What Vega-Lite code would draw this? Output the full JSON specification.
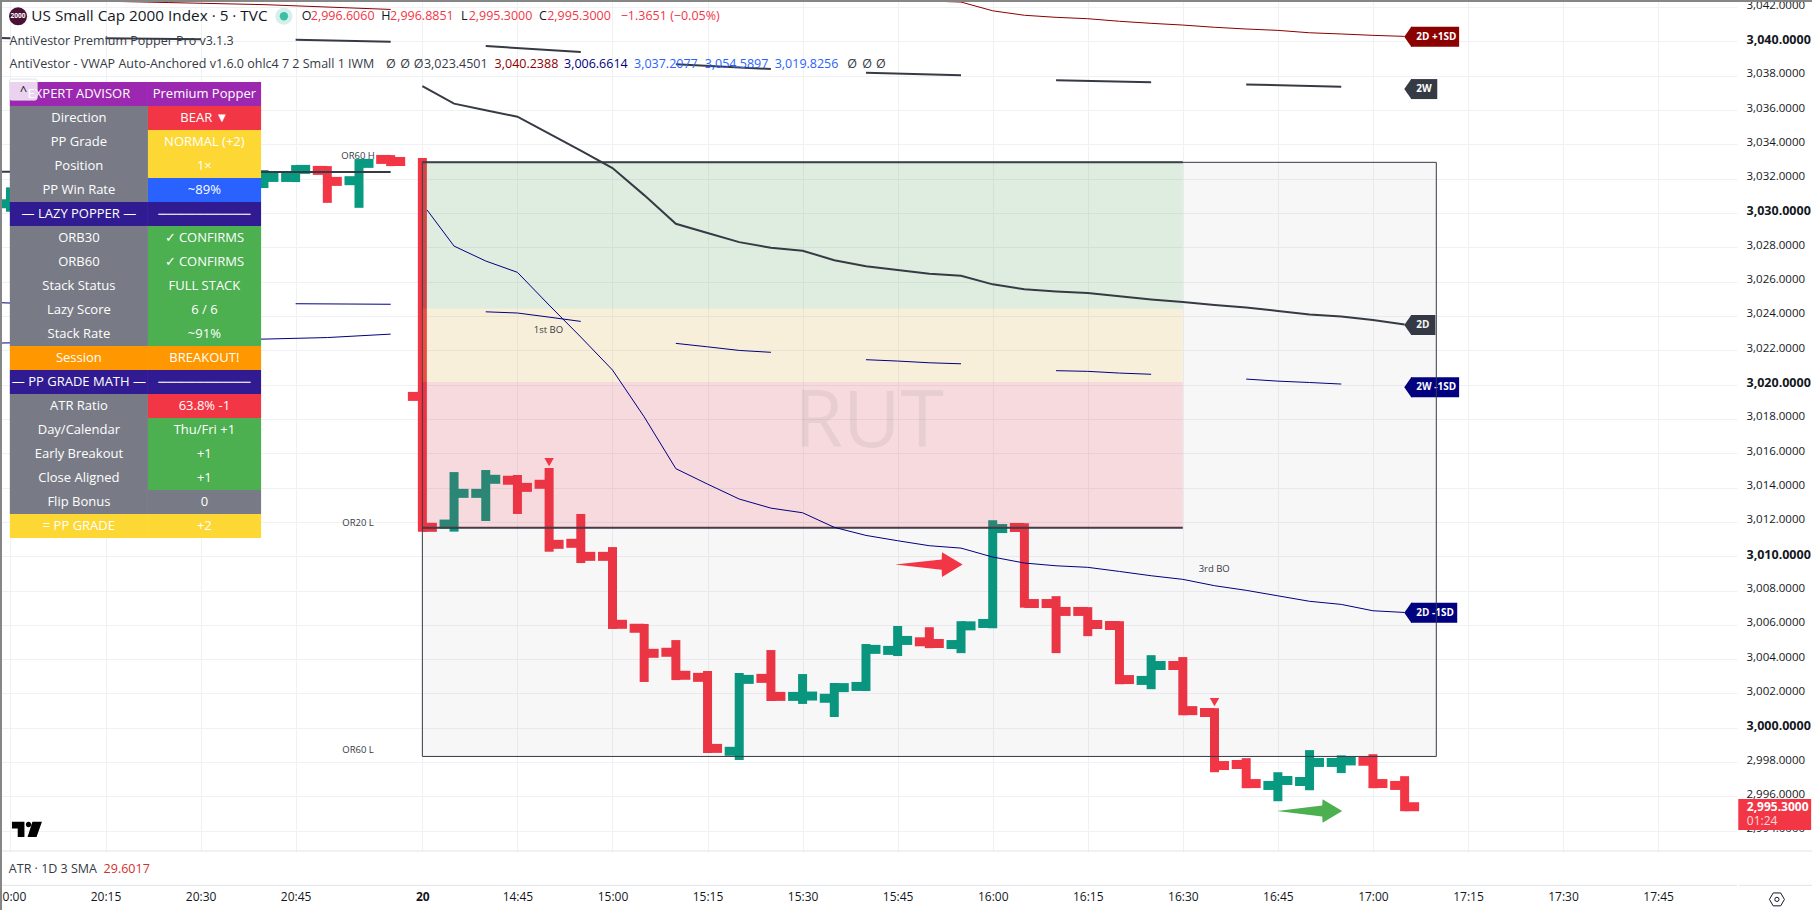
{
"$schema":"https://vega.github.io/schema/vega-lite/v6.json",
"width":1737,"height":851,"autosize":"none","padding":{"left":0,"top":0,"right":75,"bottom":59},
"background":"#ffffff",
"config":{"legend":{"disable":true},"view":{"stroke":null},"text":{"font":"Open Sans"},"axis":{"labelFont":"Open Sans"}},
"datasets":{
"bars":[
{"bar":-13,"open":3030.53,"high":3031.49,"low":3030.07,"close":3031.04,"dir":"up"},
{"bar":-5,"open":3031.92,"high":3032.5,"low":3031.45,"close":3032.07,"dir":"up"},
{"bar":-4,"open":3032.07,"high":3032.79,"low":3031.8,"close":3032.54,"dir":"up"},
{"bar":-3,"open":3032.48,"high":3032.73,"low":3030.59,"close":3031.84,"dir":"down"},
{"bar":-2,"open":3031.88,"high":3033.14,"low":3030.3,"close":3032.89,"dir":"up"},
{"bar":-1,"open":3033.12,"high":3033.37,"low":3032.73,"close":3033.0,"dir":"down"},
{"bar":0,"open":3019.31,"high":3033.2,"low":3011.43,"close":3011.68,"dir":"down"},
{"bar":1,"open":3011.87,"high":3014.9,"low":3011.43,"close":3013.66,"dir":"up"},
{"bar":2,"open":3013.66,"high":3015.02,"low":3012.05,"close":3014.48,"dir":"up"},
{"bar":3,"open":3014.42,"high":3014.73,"low":3012.46,"close":3014.01,"dir":"down"},
{"bar":4,"open":3014.19,"high":3015.14,"low":3010.26,"close":3010.69,"dir":"down"},
{"bar":5,"open":3010.75,"high":3012.46,"low":3009.6,"close":3009.99,"dir":"down"},
{"bar":6,"open":3009.99,"high":3010.53,"low":3005.76,"close":3006.03,"dir":"down"},
{"bar":7,"open":3005.8,"high":3006.05,"low":3002.67,"close":3004.34,"dir":"down"},
{"bar":8,"open":3004.4,"high":3005.11,"low":3002.78,"close":3003.06,"dir":"down"},
{"bar":9,"open":3002.94,"high":3003.31,"low":2998.53,"close":2998.8,"dir":"down"},
{"bar":10,"open":2998.63,"high":3003.19,"low":2998.12,"close":3002.82,"dir":"up"},
{"bar":11,"open":3002.88,"high":3004.53,"low":3001.56,"close":3001.83,"dir":"down"},
{"bar":12,"open":3001.83,"high":3003.13,"low":3001.39,"close":3001.85,"dir":"up"},
{"bar":13,"open":3001.72,"high":3002.61,"low":3000.63,"close":3002.34,"dir":"up"},
{"bar":14,"open":3002.41,"high":3004.88,"low":3002.14,"close":3004.57,"dir":"up"},
{"bar":15,"open":3004.51,"high":3005.93,"low":3004.18,"close":3005.09,"dir":"up"},
{"bar":16,"open":3005.01,"high":3005.86,"low":3004.64,"close":3004.91,"dir":"down"},
{"bar":17,"open":3004.85,"high":3006.21,"low":3004.35,"close":3005.94,"dir":"up"},
{"bar":18,"open":3006.08,"high":3012.1,"low":3005.8,"close":3011.61,"dir":"up"},
{"bar":19,"open":3011.67,"high":3011.92,"low":3007.0,"close":3007.24,"dir":"down"},
{"bar":20,"open":3007.24,"high":3007.67,"low":3004.35,"close":3006.78,"dir":"down"},
{"bar":21,"open":3006.78,"high":3007.03,"low":3005.34,"close":3006.02,"dir":"down"},
{"bar":22,"open":3005.96,"high":3006.21,"low":3002.54,"close":3002.81,"dir":"down"},
{"bar":23,"open":3002.76,"high":3004.23,"low":3002.25,"close":3003.63,"dir":"up"},
{"bar":24,"open":3003.63,"high":3004.12,"low":3000.73,"close":3001.0,"dir":"down"},
{"bar":25,"open":3000.89,"high":3001.14,"low":2997.41,"close":2997.8,"dir":"down"},
{"bar":26,"open":2997.86,"high":2998.23,"low":2996.48,"close":2996.75,"dir":"down"},
{"bar":27,"open":2996.64,"high":2997.41,"low":2995.72,"close":2996.93,"dir":"up"},
{"bar":28,"open":2996.87,"high":2998.7,"low":2996.36,"close":2997.98,"dir":"up"},
{"bar":29,"open":2997.98,"high":2998.39,"low":2997.36,"close":2998.07,"dir":"up"},
{"bar":30,"open":2998.05,"high":2998.46,"low":2996.48,"close":2996.75,"dir":"down"},
{"bar":31,"open":2996.64,"high":2997.18,"low":2995.14,"close":2995.4,"dir":"down"}
],
"lines":[
{"series":"2D","seg":"d0","bar":0,"price":3037.39},{"series":"2D","seg":"d0","bar":1,"price":3036.37},{"series":"2D","seg":"d0","bar":2,"price":3035.98},{"series":"2D","seg":"d0","bar":3,"price":3035.61},{"series":"2D","seg":"d0","bar":4,"price":3034.62},{"series":"2D","seg":"d0","bar":5,"price":3033.63},{"series":"2D","seg":"d0","bar":6,"price":3032.62},{"series":"2D","seg":"d0","bar":7,"price":3031.04},{"series":"2D","seg":"d0","bar":8,"price":3029.37},{"series":"2D","seg":"d0","bar":9,"price":3028.83},{"series":"2D","seg":"d0","bar":10,"price":3028.3},{"series":"2D","seg":"d0","bar":11,"price":3027.97},{"series":"2D","seg":"d0","bar":12,"price":3027.8},{"series":"2D","seg":"d0","bar":13,"price":3027.25},{"series":"2D","seg":"d0","bar":14,"price":3026.9},{"series":"2D","seg":"d0","bar":15,"price":3026.67},{"series":"2D","seg":"d0","bar":16,"price":3026.46},{"series":"2D","seg":"d0","bar":17,"price":3026.34},{"series":"2D","seg":"d0","bar":18,"price":3025.84},{"series":"2D","seg":"d0","bar":19,"price":3025.55},{"series":"2D","seg":"d0","bar":20,"price":3025.43},{"series":"2D","seg":"d0","bar":21,"price":3025.33},{"series":"2D","seg":"d0","bar":22,"price":3025.14},{"series":"2D","seg":"d0","bar":23,"price":3024.96},{"series":"2D","seg":"d0","bar":24,"price":3024.81},{"series":"2D","seg":"d0","bar":25,"price":3024.63},{"series":"2D","seg":"d0","bar":26,"price":3024.49},{"series":"2D","seg":"d0","bar":27,"price":3024.29},{"series":"2D","seg":"d0","bar":28,"price":3024.09},{"series":"2D","seg":"d0","bar":29,"price":3023.96},{"series":"2D","seg":"d0","bar":30,"price":3023.76},{"series":"2D","seg":"d0","bar":31,"price":3023.5},
{"series":"2D","seg":"dp","bar":-13.33,"price":3032.4},{"series":"2D","seg":"dp","bar":-1,"price":3032.38},
{"series":"2W","seg":"w0","bar":-13.33,"price":3040.2},{"series":"2W","seg":"w0","bar":-13,"price":3040.18},
{"series":"2W","seg":"w1","bar":-10,"price":3040.18},{"series":"2W","seg":"w1","bar":-7,"price":3040.13},
{"series":"2W","seg":"w2","bar":-4,"price":3040.1},{"series":"2W","seg":"w2","bar":-1,"price":3039.98},
{"series":"2W","seg":"w3","bar":2,"price":3039.73},{"series":"2W","seg":"w3","bar":5,"price":3039.38},
{"series":"2W","seg":"w4","bar":8,"price":3038.66},{"series":"2W","seg":"w4","bar":11,"price":3038.39},
{"series":"2W","seg":"w5","bar":14,"price":3038.17},{"series":"2W","seg":"w5","bar":17,"price":3038.02},
{"series":"2W","seg":"w6","bar":20,"price":3037.74},{"series":"2W","seg":"w6","bar":23,"price":3037.61},
{"series":"2W","seg":"w7","bar":26,"price":3037.49},{"series":"2W","seg":"w7","bar":29,"price":3037.35},
{"series":"2D +1SD","seg":"u0","bar":16,"price":3042.35},{"series":"2D +1SD","seg":"u0","bar":17,"price":3042.29},{"series":"2D +1SD","seg":"u0","bar":18,"price":3041.78},{"series":"2D +1SD","seg":"u0","bar":19,"price":3041.52},{"series":"2D +1SD","seg":"u0","bar":20,"price":3041.4},{"series":"2D +1SD","seg":"u0","bar":21,"price":3041.32},{"series":"2D +1SD","seg":"u0","bar":22,"price":3041.17},{"series":"2D +1SD","seg":"u0","bar":23,"price":3041.05},{"series":"2D +1SD","seg":"u0","bar":24,"price":3040.95},{"series":"2D +1SD","seg":"u0","bar":25,"price":3040.82},{"series":"2D +1SD","seg":"u0","bar":26,"price":3040.72},{"series":"2D +1SD","seg":"u0","bar":27,"price":3040.64},{"series":"2D +1SD","seg":"u0","bar":28,"price":3040.5},{"series":"2D +1SD","seg":"u0","bar":29,"price":3040.43},{"series":"2D +1SD","seg":"u0","bar":30,"price":3040.35},{"series":"2D +1SD","seg":"u0","bar":31,"price":3040.29},
{"series":"2D +1SD","seg":"up","bar":-11,"price":3042.38},{"series":"2D +1SD","seg":"up","bar":-8,"price":3042.26},{"series":"2D +1SD","seg":"up","bar":-5,"price":3042.14},{"series":"2D +1SD","seg":"up","bar":-1,"price":3041.86},
{"series":"2D -1SD","seg":"l0","bar":0.15,"price":3030.17},{"series":"2D -1SD","seg":"l0","bar":1,"price":3028.07},{"series":"2D -1SD","seg":"l0","bar":2,"price":3027.2},{"series":"2D -1SD","seg":"l0","bar":3,"price":3026.54},{"series":"2D -1SD","seg":"l0","bar":4,"price":3024.63},{"series":"2D -1SD","seg":"l0","bar":5,"price":3022.77},{"series":"2D -1SD","seg":"l0","bar":6,"price":3020.85},{"series":"2D -1SD","seg":"l0","bar":7,"price":3018.12},{"series":"2D -1SD","seg":"l0","bar":8,"price":3015.1},{"series":"2D -1SD","seg":"l0","bar":9,"price":3014.2},{"series":"2D -1SD","seg":"l0","bar":10,"price":3013.33},{"series":"2D -1SD","seg":"l0","bar":11,"price":3012.8},{"series":"2D -1SD","seg":"l0","bar":12,"price":3012.53},{"series":"2D -1SD","seg":"l0","bar":13,"price":3011.68},{"series":"2D -1SD","seg":"l0","bar":14,"price":3011.21},{"series":"2D -1SD","seg":"l0","bar":15,"price":3010.9},{"series":"2D -1SD","seg":"l0","bar":16,"price":3010.61},{"series":"2D -1SD","seg":"l0","bar":17,"price":3010.47},{"series":"2D -1SD","seg":"l0","bar":18,"price":3009.95},{"series":"2D -1SD","seg":"l0","bar":19,"price":3009.6},{"series":"2D -1SD","seg":"l0","bar":20,"price":3009.44},{"series":"2D -1SD","seg":"l0","bar":21,"price":3009.35},{"series":"2D -1SD","seg":"l0","bar":22,"price":3009.11},{"series":"2D -1SD","seg":"l0","bar":23,"price":3008.86},{"series":"2D -1SD","seg":"l0","bar":24,"price":3008.65},{"series":"2D -1SD","seg":"l0","bar":25,"price":3008.28},{"series":"2D -1SD","seg":"l0","bar":26,"price":3008.01},{"series":"2D -1SD","seg":"l0","bar":27,"price":3007.69},{"series":"2D -1SD","seg":"l0","bar":28,"price":3007.37},{"series":"2D -1SD","seg":"l0","bar":29,"price":3007.19},{"series":"2D -1SD","seg":"l0","bar":30,"price":3006.82},{"series":"2D -1SD","seg":"l0","bar":31,"price":3006.72},
{"series":"2D -1SD","seg":"lp","bar":-13.33,"price":3022.42},{"series":"2D -1SD","seg":"lp","bar":-5,"price":3022.65},{"series":"2D -1SD","seg":"lp","bar":-3,"price":3022.74},{"series":"2D -1SD","seg":"lp","bar":-1,"price":3022.94},
{"series":"2W -1SD","seg":"s0","bar":-13.33,"price":3024.77},{"series":"2W -1SD","seg":"s0","bar":-13,"price":3024.75},
{"series":"2W -1SD","seg":"s1","bar":-4,"price":3024.71},{"series":"2W -1SD","seg":"s1","bar":-1,"price":3024.68},
{"series":"2W -1SD","seg":"s2","bar":2,"price":3024.24},{"series":"2W -1SD","seg":"s2","bar":3,"price":3024.17},{"series":"2W -1SD","seg":"s2","bar":4,"price":3023.93},{"series":"2W -1SD","seg":"s2","bar":5,"price":3023.68},
{"series":"2W -1SD","seg":"s3","bar":8,"price":3022.4},{"series":"2W -1SD","seg":"s3","bar":9,"price":3022.2},{"series":"2W -1SD","seg":"s3","bar":10,"price":3021.99},{"series":"2W -1SD","seg":"s3","bar":11,"price":3021.88},
{"series":"2W -1SD","seg":"s4","bar":14,"price":3021.45},{"series":"2W -1SD","seg":"s4","bar":15,"price":3021.37},{"series":"2W -1SD","seg":"s4","bar":16,"price":3021.27},{"series":"2W -1SD","seg":"s4","bar":17,"price":3021.21},
{"series":"2W -1SD","seg":"s5","bar":20,"price":3020.81},{"series":"2W -1SD","seg":"s5","bar":21,"price":3020.77},{"series":"2W -1SD","seg":"s5","bar":22,"price":3020.67},{"series":"2W -1SD","seg":"s5","bar":23,"price":3020.6},
{"series":"2W -1SD","seg":"s6","bar":26,"price":3020.32},{"series":"2W -1SD","seg":"s6","bar":27,"price":3020.2},{"series":"2W -1SD","seg":"s6","bar":28,"price":3020.12},{"series":"2W -1SD","seg":"s6","bar":29,"price":3020.03}
],
"badges":[
{"label":"2D +1SD","series":"2D +1SD","bar":31.21,"barEnd":32.72,"price":3040.27},
{"label":"2W","series":"2W","bar":31.21,"barEnd":32.03,"price":3037.22},
{"label":"2D","series":"2D","bar":31.21,"barEnd":31.97,"price":3023.47},
{"label":"2W -1SD","series":"2W -1SD","bar":31.21,"barEnd":32.72,"price":3019.85},
{"label":"2D -1SD","series":"2D -1SD","bar":31.21,"barEnd":32.66,"price":3006.7}
],
"zones":[
{"zone":"green","bar":0,"barEnd":24,"top":3032.95,"bottom":3024.44},
{"zone":"amber","bar":0,"barEnd":24,"top":3024.44,"bottom":3020.15},
{"zone":"down","bar":0,"barEnd":24,"top":3020.15,"bottom":3011.66}
],
"orLevels":[{"name":"OR high","bar":0,"barEnd":24,"price":3032.95},{"name":"OR low","bar":0,"barEnd":24,"price":3011.66}],
"arrows":[
{"arrow":"a","kind":"down","bar":14.92,"price":3009.51,"price2":3009.51},{"arrow":"a","kind":"down","bar":16.39,"price":3009.81,"price2":3009.21},{"arrow":"a","kind":"down","bar":16.4,"price":3010.23,"price2":3008.79},{"arrow":"a","kind":"down","bar":17.05,"price":3009.51,"price2":3009.51},
{"arrow":"b","kind":"green","bar":26.97,"price":2995.15,"price2":2995.15},{"arrow":"b","kind":"green","bar":28.4,"price":2995.47,"price2":2994.83},{"arrow":"b","kind":"green","bar":28.41,"price":2995.84,"price2":2994.46},{"arrow":"b","kind":"green","bar":29.03,"price":2995.15,"price2":2995.15}
],
"signals":[{"bar":4,"price":3015.48},{"bar":25,"price":3001.5}],
"small":[
{"label":"OR60 H","bar":-2.03,"price":3033.32},{"label":"OR20 L","bar":-2.03,"price":3011.93},{"label":"OR60 L","bar":-2.03,"price":2998.7},{"label":"1st BO","bar":3.98,"price":3023.18},{"label":"3rd BO","bar":24.99,"price":3009.25}
],
"legendText":[
{"label":"O","bar":-3.81,"price":3041.46,"kind":"ink"},{"label":"2,996.6060","bar":-3.52,"price":3041.46,"kind":"down"},
{"label":"H","bar":-1.3,"price":3041.46,"kind":"ink"},{"label":"2,996.8851","bar":-1.02,"price":3041.46,"kind":"down"},
{"label":"L","bar":1.22,"price":3041.46,"kind":"ink"},{"label":"2,995.3000","bar":1.46,"price":3041.46,"kind":"down"},
{"label":"C","bar":3.68,"price":3041.46,"kind":"ink"},{"label":"2,995.3000","bar":3.94,"price":3041.46,"kind":"down"},
{"label":"−1.3651 (−0.05%)","bar":6.26,"price":3041.46,"kind":"down"},
{"label":"AntiVestor Premium Popper Pro v3.1.3","bar":-13.03,"price":3040.03,"kind":"2D"},
{"label":"AntiVestor - VWAP Auto-Anchored v1.6.0 ohlc4 7 2 Small 1 IWM","bar":-13.03,"price":3038.66,"kind":"2D"},
{"label":"Ø","bar":-1.15,"price":3038.66,"kind":"2D"},{"label":"Ø","bar":-0.7,"price":3038.66,"kind":"2D"},{"label":"Ø","bar":-0.27,"price":3038.66,"kind":"2D"},
{"label":"3,023.4501","bar":0.05,"price":3038.66,"kind":"2D"},
{"label":"3,040.2388","bar":2.28,"price":3038.66,"kind":"2D +1SD"},
{"label":"3,006.6614","bar":4.47,"price":3038.66,"kind":"2D -1SD"},
{"label":"3,037.2077","bar":6.68,"price":3038.66,"kind":"blue"},
{"label":"3,054.5897","bar":8.91,"price":3038.66,"kind":"blue"},
{"label":"3,019.8256","bar":11.12,"price":3038.66,"kind":"blue"},
{"label":"Ø","bar":13.41,"price":3038.66,"kind":"2D"},{"label":"Ø","bar":13.88,"price":3038.66,"kind":"2D"},{"label":"Ø","bar":14.32,"price":3038.66,"kind":"2D"},
{"label":"ATR · 1D 3 SMA","bar":-13.05,"price":2991.77,"kind":"2D"},
{"label":"29.6017","bar":-10.06,"price":2991.77,"kind":"atr"}
],
"table":[
{"label":"EXPERT ADVISOR","value":"Premium Popper","labelKind":"purple","valueKind":"purple"},
{"label":"Direction","value":"BEAR ▼","labelKind":"gray","valueKind":"down"},
{"label":"PP Grade","value":"NORMAL (+2)","labelKind":"gray","valueKind":"yellow"},
{"label":"Position","value":"1×","labelKind":"gray","valueKind":"yellow"},
{"label":"PP Win Rate","value":"~89%","labelKind":"gray","valueKind":"blue"},
{"label":"— LAZY POPPER —","value":"──────────","labelKind":"indigo","valueKind":"indigo"},
{"label":"ORB30","value":"✓ CONFIRMS","labelKind":"gray","valueKind":"green"},
{"label":"ORB60","value":"✓ CONFIRMS","labelKind":"gray","valueKind":"green"},
{"label":"Stack Status","value":"FULL STACK","labelKind":"gray","valueKind":"green"},
{"label":"Lazy Score","value":"6 / 6","labelKind":"gray","valueKind":"green"},
{"label":"Stack Rate","value":"~91%","labelKind":"gray","valueKind":"green"},
{"label":"Session","value":"BREAKOUT!","labelKind":"orange","valueKind":"orange"},
{"label":"— PP GRADE MATH —","value":"──────────","labelKind":"indigo","valueKind":"indigo"},
{"label":"ATR Ratio","value":"63.8% -1","labelKind":"gray","valueKind":"down"},
{"label":"Day/Calendar","value":"Thu/Fri +1","labelKind":"gray","valueKind":"green"},
{"label":"Early Breakout","value":"+1","labelKind":"gray","valueKind":"green"},
{"label":"Close Aligned","value":"+1","labelKind":"gray","valueKind":"green"},
{"label":"Flip Bonus","value":"0","labelKind":"gray","valueKind":"gray"},
{"label":"= PP GRADE","value":"+2","labelKind":"yellow","valueKind":"yellow"}
]
},
"data":{"name":"bars"},
"resolve":{"scale":{"x":"independent","y":"independent"}},
"layer":[
{
"encoding":{
"x":{"field":"bar","type":"quantitative","scale":{"type":"linear","domain":[-13.33,41.49],"nice":false,"zero":false},
"axis":{"title":null,"orient":"bottom","values":[-13,-10,-7,-4,0,3,6,9,12,15,18,21,24,27,30,33,36,39],"grid":true,"gridColor":"#f0f1f4","gridWidth":1,"ticks":false,"domain":false,"labelPadding":40,"labelFontSize":12,"labelColor":"#131722","labelOverlap":false,"labelFlush":false,"labelBound":false,
"labelExpr":"{'-13':'20:00','-10':'20:15','-7':'20:30','-4':'20:45','0':'20','3':'14:45','6':'15:00','9':'15:15','12':'15:30','15':'15:45','18':'16:00','21':'16:15','24':'16:30','27':'16:45','30':'17:00','33':'17:15','36':'17:30','39':'17:45'}[''+datum.value]",
"labelFontWeight":{"condition":{"test":"datum.value==0","value":"bold"},"value":"normal"}}},
"y":{"field":"price","type":"quantitative","scale":{"type":"linear","domain":[2992.82,3042.41],"nice":false,"zero":false},
"axis":{"title":null,"orient":"right","values":[2994,2996,2998,3000,3002,3004,3006,3008,3010,3012,3014,3016,3018,3020,3022,3024,3026,3028,3030,3032,3034,3036,3038,3040,3042],"format":",.4f","grid":true,"gridColor":"#f0f1f4","gridWidth":1,"ticks":false,"domain":false,"labelPadding":9,"labelOffset":-2,"labelColor":"#131722","labelOverlap":false,"labelBound":false,"labelFlush":false,
"labelFontSize":{"condition":{"test":"datum.value%10==0","value":12.5},"value":11.5},
"labelFontWeight":{"condition":{"test":"datum.value%10==0","value":"bold"},"value":"normal"}}}
},
"layer":[
{"mark":{"type":"rule","strokeWidth":9},"encoding":{"y":{"field":"high","type":"quantitative"},"y2":{"field":"low"},"color":{"field":"dir","type":"nominal","scale":{"domain":["up","down","2D","2W","2D +1SD","2D -1SD","2W -1SD","purple","gray","yellow","blue","indigo","green","orange","ink","atr"],"range":["#089981","#f23645","#363a45","#363a45","#8b0000","#000080","#000080","#9c27b0","#787b86","#fdd835","#2962ff","#311b92","#4caf50","#ff9800","#131722","#d32f2f"]}}}},
{"mark":{"type":"tick","orient":"horizontal","size":14.5,"thickness":9,"xOffset":-7.25,"opacity":1},"encoding":{"y":{"field":"open","type":"quantitative"},"color":{"field":"dir","type":"nominal"}}},
{"mark":{"type":"tick","orient":"horizontal","size":14.5,"thickness":9,"xOffset":7.25,"opacity":1},"encoding":{"y":{"field":"close","type":"quantitative"},"color":{"field":"dir","type":"nominal"}}},
{"data":{"name":"badges"},"mark":{"type":"rule","strokeWidth":20},"encoding":{"x2":{"field":"barEnd"},"color":{"field":"series","type":"nominal"}}},
{"data":{"name":"badges"},"mark":{"type":"point","filled":true,"size":1600,"opacity":1,"shape":"M-0.35,0L0,-0.5L0.05,-0.5L0.05,0.5L0,0.5Z"},"encoding":{"color":{"field":"series","type":"nominal"}}},
{"data":{"name":"badges"},"mark":{"type":"text","align":"left","baseline":"middle","dx":5,"fontSize":10,"fontWeight":"bold","color":"#ffffff"},"encoding":{"text":{"field":"label"}}},
{"data":{"values":[{"bar":0,"barEnd":32,"top":3032.95,"bottom":2998.33}]},"mark":{"type":"rect","fill":"#363a45","fillOpacity":0.04,"stroke":"#363a45","strokeWidth":1},"encoding":{"x2":{"field":"barEnd"},"y":{"field":"top","type":"quantitative"},"y2":{"field":"bottom"}}},
{"data":{"name":"orLevels"},"mark":{"type":"rule","strokeWidth":2,"color":"#363a45"},"encoding":{"x2":{"field":"barEnd"}}},
{"data":{"name":"zones"},"transform":[{"filter":"datum.zone=='green'"}],"mark":{"type":"rect","fill":"#4caf50","fillOpacity":0.14},"encoding":{"x2":{"field":"barEnd"},"y":{"field":"top","type":"quantitative"},"y2":{"field":"bottom"}}},
{"data":{"name":"zones"},"transform":[{"filter":"datum.zone=='amber'"}],"mark":{"type":"rect","fill":"#ffc93c","fillOpacity":0.16},"encoding":{"x2":{"field":"barEnd"},"y":{"field":"top","type":"quantitative"},"y2":{"field":"bottom"}}},
{"data":{"name":"zones"},"transform":[{"filter":"datum.zone=='down'"}],"mark":{"type":"rect","fill":"#f23645","fillOpacity":0.15},"encoding":{"x2":{"field":"barEnd"},"y":{"field":"top","type":"quantitative"},"y2":{"field":"bottom"}}},
{"data":{"values":[{"label":"RUT","bar":14.1,"price":3017.76}]},"mark":{"type":"text","fontSize":79,"fontWeight":"normal","color":"#363a45","opacity":0.07,"align":"center","baseline":"middle"},"encoding":{"text":{"field":"label"}}},
{"data":{"name":"lines"},"transform":[{"filter":"datum.series=='2D'||datum.series=='2W'"}],"mark":{"type":"line","interpolate":"linear","strokeWidth":2},"encoding":{"detail":{"field":"seg"},"color":{"field":"series","type":"nominal"}}},
{"data":{"name":"lines"},"transform":[{"filter":"datum.series!='2D'&&datum.series!='2W'"}],"mark":{"type":"line","interpolate":"linear","strokeWidth":1},"encoding":{"detail":{"field":"seg"},"color":{"field":"series","type":"nominal"}}},
{"data":{"name":"signals"},"mark":{"type":"point","filled":true,"shape":"triangle-down","size":90,"color":"#f23645","opacity":1}},
{"data":{"name":"arrows"},"mark":{"type":"area","opacity":1},"encoding":{"y2":{"field":"price2"},"color":{"field":"kind","type":"nominal"},"detail":{"field":"arrow"}}},
{"data":{"name":"small"},"mark":{"type":"text","fontSize":9.5,"color":"#363a45","align":"center","baseline":"middle"},"encoding":{"text":{"field":"label"}}},
{"data":{"values":[{"label":"US Small Cap 2000 Index · 5 · TVC","bar":-12.34,"price":3041.46}]},"mark":{"type":"text","fontSize":15.3,"color":"#131722","align":"left","baseline":"middle"},"encoding":{"text":{"field":"label"}}},
{"data":{"name":"legendText"},"mark":{"type":"text","fontSize":12.5,"align":"left","baseline":"middle"},"encoding":{"text":{"field":"label"},"color":{"field":"kind","type":"nominal"}}},
{"data":{"values":[{"bar":-12.76,"price":3041.46}]},"mark":{"type":"point","filled":true,"size":324,"shape":"circle","color":"#4b1036","opacity":1}},
{"data":{"values":[{"label":"2000","bar":-12.76,"price":3041.46}]},"mark":{"type":"text","fontSize":6.5,"fontWeight":"bold","color":"#ffffff","align":"center","baseline":"middle"},"encoding":{"text":{"field":"label"}}},
{"data":{"values":[{"bar":-4.37,"price":3041.46}]},"mark":{"type":"point","filled":true,"size":290,"shape":"circle","color":"#d5f0ea","opacity":1}},
{"data":{"values":[{"bar":-4.37,"price":3041.46}]},"mark":{"type":"point","filled":true,"size":70,"shape":"circle","color":"#3dbfa5","opacity":1}},
{"data":{"values":[{"bar":-12.48,"price":2994.08}]},"mark":{"type":"point","filled":true,"size":3600,"color":"#000000","opacity":1,"shape":"M-0.5,-0.255L-0.083,-0.255L-0.083,0.255L-0.307,0.255L-0.307,-0.032L-0.5,-0.032Z M-0.037,-0.165A0.09,0.09 0 1,1 0.143,-0.165A0.09,0.09 0 1,1 -0.037,-0.165Z M0.183,-0.255L0.5,-0.255L0.32,0.255L0.02,0.255Z"}},
{"data":{"values":[{"bar":41.53,"barEnd":43.83,"top":2995.85,"bottom":2994.05}]},"mark":{"type":"rect","fill":"#f23645"},"encoding":{"x2":{"field":"barEnd"},"y":{"field":"top","type":"quantitative"},"y2":{"field":"bottom"}}},
{"data":{"values":[{"label":"2,995.3000","bar":41.8,"price":2995.4}]},"mark":{"type":"text","fontSize":12,"fontWeight":"bold","color":"#ffffff","align":"left","baseline":"middle"},"encoding":{"text":{"field":"label"}}},
{"data":{"values":[{"label":"01:24","bar":41.8,"price":2994.58}]},"mark":{"type":"text","fontSize":12,"color":"#ffffff","opacity":0.8,"align":"left","baseline":"middle"},"encoding":{"text":{"field":"label"}}},
{"data":{"values":[{"bar":-13.33,"barEnd":43.87,"price":2992.82},{"bar":-13.33,"barEnd":41.49,"price":2990.82},{"bar":41.55,"barEnd":43.87,"price":2990.82}]},"mark":{"type":"rule","strokeWidth":1,"color":"#e0e3eb"},"encoding":{"x2":{"field":"barEnd"}}},
{"data":{"values":[{"bar":42.75,"price":2990.0}]},"mark":{"type":"point","filled":false,"size":900,"strokeWidth":1,"color":"#131722","opacity":1,"shape":"M-0.5,0L-0.25,-0.43L0.25,-0.43L0.5,0L0.25,0.43L-0.25,0.43Z"}},
{"data":{"values":[{"bar":42.75,"price":2990.0}]},"mark":{"type":"point","filled":false,"size":18,"strokeWidth":1,"color":"#131722","opacity":1}}
]
},
{
"data":{"name":"table"},
"encoding":{"y":{"field":"label","type":"nominal","axis":null,"scale":{"type":"band","range":[82,538],"paddingInner":0,"paddingOuter":0,"domain":["EXPERT ADVISOR","Direction","PP Grade","Position","PP Win Rate","— LAZY POPPER —","ORB30","ORB60","Stack Status","Lazy Score","Stack Rate","Session","— PP GRADE MATH —","ATR Ratio","Day/Calendar","Early Breakout","Close Aligned","Flip Bonus","= PP GRADE"]}}},
"layer":[
{"mark":{"type":"rect"},"encoding":{"x":{"datum":-13.02,"type":"quantitative","axis":null,"scale":{"type":"linear","domain":[-13.33,41.49],"nice":false,"zero":false}},"x2":{"datum":-8.66},"color":{"field":"labelKind","type":"nominal"}}},
{"mark":{"type":"rect"},"encoding":{"x":{"datum":-8.66,"type":"quantitative","axis":null},"x2":{"datum":-5.09},"color":{"field":"valueKind","type":"nominal"}}},
{"mark":{"type":"text","fontSize":13,"color":"#ffffff","align":"center","baseline":"middle"},"encoding":{"x":{"datum":-10.84,"type":"quantitative","axis":null},"text":{"field":"label"}}},
{"mark":{"type":"text","fontSize":13,"color":"#ffffff","align":"center","baseline":"middle"},"encoding":{"x":{"datum":-6.88,"type":"quantitative","axis":null},"text":{"field":"value"}}}
]
},
{
"data":{"values":[{"bar":-13.03,"barEnd":-12.16,"top":3037.8,"bottom":3036.58,"label":"^","mid":-12.59,"price":3037.1}]},
"layer":[
{"mark":{"type":"rect","fill":"#ffffff","fillOpacity":0.8,"stroke":"#e0e3eb","strokeWidth":1,"cornerRadius":2},"encoding":{"x":{"field":"bar","type":"quantitative","axis":null,"scale":{"type":"linear","domain":[-13.33,41.49],"nice":false,"zero":false}},"x2":{"field":"barEnd"},"y":{"field":"top","type":"quantitative","axis":null,"scale":{"type":"linear","domain":[2992.82,3042.41],"nice":false,"zero":false}},"y2":{"field":"bottom"}}},
{"mark":{"type":"text","fontSize":13,"color":"#131722","align":"center","baseline":"middle"},"encoding":{"x":{"field":"mid","type":"quantitative","axis":null},"y":{"field":"price","type":"quantitative","axis":null},"text":{"field":"label"}}},
{"data":{"values":[{"x0":-13.33,"y0":3042.41,"y1":2989.38}]},"mark":{"type":"rule","strokeWidth":4,"color":"#868686"},"encoding":{"x":{"field":"x0","type":"quantitative","axis":null},"y":{"field":"y0","type":"quantitative","axis":null},"y2":{"field":"y1"}}},
{"data":{"values":[{"x0":-13.33,"x1":43.87,"y0":3042.41}]},"mark":{"type":"rule","strokeWidth":4,"color":"#868686"},"encoding":{"x":{"field":"x0","type":"quantitative","axis":null},"x2":{"field":"x1"},"y":{"field":"y0","type":"quantitative","axis":null}}}
]
}
]
}
